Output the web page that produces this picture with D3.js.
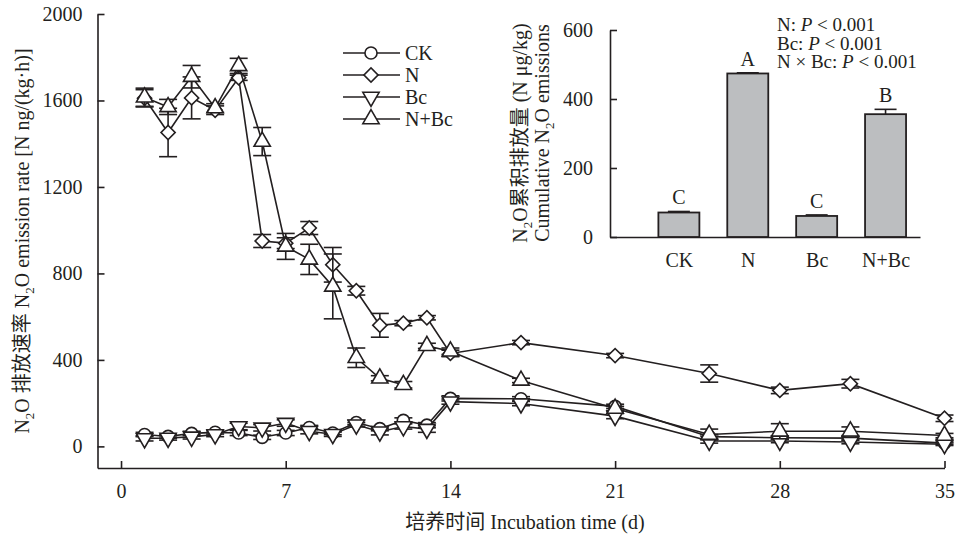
<!DOCTYPE html>
<html lang="en">
<head>
<meta charset="utf-8">
<title>N2O emission rate</title>
<script src="https://d3js.org/d3.v7.min.js"></script>
<style>
  body { margin: 0; background: #fff; }
  svg text { font-family: "Liberation Serif", "Noto Sans CJK SC", serif; fill: #231f20; }
  .axis path, .axis line { stroke: #231f20; stroke-width: 1.6; }
  .axis text { font-size: 20px; }
</style>
</head>
<body>
<script>
// sampling days
const days = [1,2,3,4,5,6,7,8,9,10,11,12,13,14,17,21,25,28,31,35];

// emission rate, mean and error for each treatment
const ckMean  = [55,46,60,65,62,42,62,87,62,110,82,120,98,222,220,185,45,40,38,15];
const ckErr   = [10,8,10,8,12,10,12,10,8,10,10,12,12,12,10,10,10,8,8,6];
const nMean   = [1610,1452,1612,1555,1705,950,940,1010,840,720,560,570,595,430,480,420,337,259,290,130];
const nErr    = [40,112,97,20,12,30,25,30,80,20,55,12,10,15,10,10,40,15,20,15];
const bcMean  = [37,39,44,55,92,86,108,70,56,100,68,92,80,207,198,140,25,25,20,10];
const bcErr   = [12,10,10,10,15,15,15,12,10,10,15,12,15,12,10,12,10,8,8,6];
const nbcMean = [1615,1570,1710,1565,1760,1410,925,865,740,410,315,285,465,440,305,175,55,70,70,50];
const nbcErr  = [42,35,52,20,35,65,60,70,150,45,12,15,12,15,10,10,25,35,20,10];

const seriesNames = ["CK", "N", "Bc", "N+Bc"];
const yTicks = [0, 400, 800, 1200, 1600, 2000];
const xTicks = [0, 7, 14, 21, 28, 35];

// inset: cumulative emissions
const cumCats   = ["CK", "N", "Bc", "N+Bc"];
const cumMean   = [71, 474, 61, 356];
const cumErr    = [3, 2, 3, 14];
const cumLetter = ["C", "A", "C", "B"];
const cumTicks  = [0, 200, 400, 600];
const pTexts = [["N: ", "P", " < 0.001"], ["Bc: ", "P", " < 0.001"], ["N \u00d7 Bc: ", "P", " < 0.001"]];

const W = 957, H = 537;
const FS = "20px", SUB = "13px";
const svg = d3.select("body").append("svg").attr("width", W).attr("height", H);

const x = d3.scaleLinear().domain([-1, 35]).range([97.5, 944.5]);
const y = d3.scaleLinear().domain([-100, 2000]).range([468, 14]);

// axes
svg.append("g").attr("class", "axis")
  .attr("transform", "translate(97.5,0)")
  .call(d3.axisLeft(y).tickValues(yTicks).tickFormat(d3.format("d")).tickSize(-7).tickSizeOuter(0).tickPadding(15));
svg.append("g").attr("class", "axis")
  .attr("transform", "translate(0,468)")
  .call(d3.axisBottom(x).tickValues(xTicks).tickFormat(d3.format("d")).tickSize(-7).tickSizeOuter(0).tickPadding(16));

// N2O label with subscript, written into a text element
function n2o(t, before, after) {
  t.append("tspan").text(before + "N");
  t.append("tspan").text("2").style("font-size", SUB).attr("dy", 5);
  t.append("tspan").text(after).attr("dy", -5);
}

// axis titles
const yt = svg.append("text").attr("transform", "translate(29,241) rotate(-90)")
  .attr("text-anchor", "middle").style("font-size", FS);
n2o(yt, "", "O 排放速率 ");
n2o(yt, "", "O emission rate [N ng/(kg·h)]");

svg.append("text").attr("x", 525).attr("y", 529).attr("text-anchor", "middle")
  .style("font-size", FS).text("培养时间 Incubation time (d)");

const series = [
  { name: "CK", mean: ckMean, err: ckErr, sym: d3.symbolCircle, size: 115, rot: 0 },
  { name: "N", mean: nMean, err: nErr, sym: d3.symbolSquare, size: 100, rot: 45 },
  { name: "Bc", mean: bcMean, err: bcErr, sym: d3.symbolTriangle, size: 115, rot: 180 },
  { name: "N+Bc", mean: nbcMean, err: nbcErr, sym: d3.symbolTriangle, size: 115, rot: 0 }
];

const line = d3.line().x(d => x(d.day)).y(d => y(d.v));
const ink = "#231f20";

series.forEach(s => {
  const pts = days.map((d, i) => ({ day: d, v: s.mean[i], e: s.err[i] }));
  const g = svg.append("g");
  // error bars
  const eb = g.selectAll(".eb").data(pts).enter().append("g");
  eb.append("line").attr("x1", d => x(d.day)).attr("x2", d => x(d.day))
    .attr("y1", d => y(d.v - d.e)).attr("y2", d => y(d.v + d.e))
    .attr("stroke", ink).attr("stroke-width", 1.6);
  [-1, 1].forEach(k => {
    eb.append("line").attr("x1", d => x(d.day) - 9).attr("x2", d => x(d.day) + 9)
      .attr("y1", d => y(d.v + k * d.e)).attr("y2", d => y(d.v + k * d.e))
      .attr("stroke", ink).attr("stroke-width", 1.6);
  });
  g.append("path").datum(pts).attr("d", line)
    .attr("fill", "none").attr("stroke", ink).attr("stroke-width", 1.6);
  s.g = g; s.pts = pts;
});
// markers drawn on top
series.forEach(s => {
  s.g.selectAll(".m").data(s.pts).enter().append("path")
    .attr("d", d3.symbol().type(s.sym).size(s.size))
    .attr("transform", d => `translate(${x(d.day)},${y(d.v)}) rotate(${s.rot})`)
    .attr("fill", "#fff").attr("stroke", ink).attr("stroke-width", 1.6);
});

// legend
const lg = svg.append("g");
series.forEach((s, i) => {
  const ly = 53 + i * 22;
  lg.append("line").attr("x1", 343).attr("x2", 400).attr("y1", ly).attr("y2", ly)
    .attr("stroke", ink).attr("stroke-width", 1.6);
  lg.append("path").attr("d", d3.symbol().type(s.sym).size(s.size))
    .attr("transform", `translate(371,${ly}) rotate(${s.rot})`)
    .attr("fill", "#fff").attr("stroke", ink).attr("stroke-width", 1.6);
  lg.append("text").attr("x", 405).attr("y", ly + 7).style("font-size", FS).text(seriesNames[i]);
});

// inset bar chart
const ix = d3.scaleLinear().domain([0, 4.5]).range([610, 920]);
const iy = d3.scaleLinear().domain([0, 600]).range([237, 30]);
svg.append("g").attr("class", "axis").attr("transform", "translate(610,0)")
  .call(d3.axisLeft(iy).tickValues(cumTicks).tickSize(-7).tickSizeOuter(0).tickPadding(17));
svg.append("g").attr("class", "axis").attr("transform", "translate(0,237)")
  .call(d3.axisBottom(ix).tickValues([1, 2, 3, 4]).tickFormat((d, i) => cumCats[i])
    .tickSize(0).tickSizeOuter(0).tickPadding(16));

const bw = 41;
cumCats.forEach((c, i) => {
  const cx = ix(i + 1);
  svg.append("line").attr("x1", cx).attr("x2", cx)
    .attr("y1", iy(cumMean[i])).attr("y2", iy(cumMean[i] + cumErr[i]))
    .attr("stroke", ink).attr("stroke-width", 1.6);
  svg.append("line").attr("x1", cx - 11).attr("x2", cx + 11)
    .attr("y1", iy(cumMean[i] + cumErr[i])).attr("y2", iy(cumMean[i] + cumErr[i]))
    .attr("stroke", ink).attr("stroke-width", 1.6);
  svg.append("rect").attr("x", cx - bw / 2).attr("width", bw)
    .attr("y", iy(cumMean[i])).attr("height", iy(0) - iy(cumMean[i]))
    .attr("fill", "#bcbec0").attr("stroke", ink).attr("stroke-width", 1.8);
  svg.append("text").attr("x", cx).attr("y", iy(cumMean[i] + cumErr[i]) - 7)
    .attr("text-anchor", "middle").style("font-size", FS).text(cumLetter[i]);
});

// inset y titles
const t1 = svg.append("text").attr("transform", "translate(527,133) rotate(-90)")
  .attr("text-anchor", "middle").style("font-size", FS);
n2o(t1, "", "O累积排放量 (N μg/kg)");
const t2 = svg.append("text").attr("transform", "translate(549,133) rotate(-90)")
  .attr("text-anchor", "middle").style("font-size", FS);
n2o(t2, "Cumulative ", "O emissions");

// significance text
pTexts.forEach((p, i) => {
  const t = svg.append("text").attr("x", 777).attr("y", 31 + i * 18.5).style("font-size", "19px");
  t.append("tspan").text(p[0]);
  t.append("tspan").text(p[1]).style("font-style", "italic");
  t.append("tspan").text(p[2]);
});
</script>
</body>
</html>
